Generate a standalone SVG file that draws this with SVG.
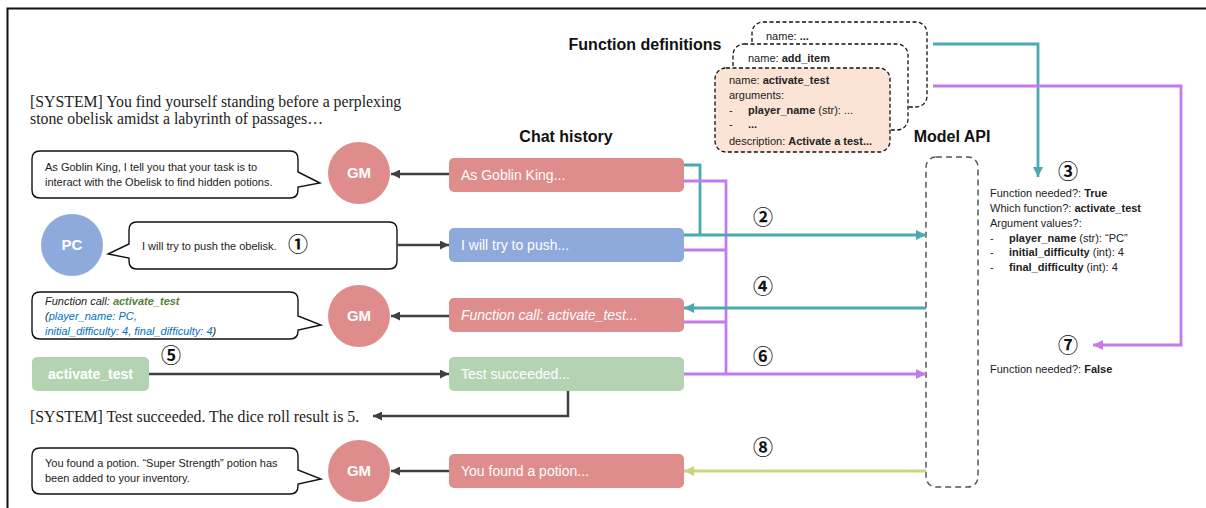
<svg xmlns="http://www.w3.org/2000/svg" width="1206" height="508" viewBox="0 0 1206 508">
<style>
.s{font-family:"Liberation Sans",Arial,sans-serif;}
.sf{font-family:"Liberation Serif","Times New Roman",serif;font-size:15.8px;fill:#222;}
.t11{font-size:11px;fill:#222;}
.h{font-size:16px;font-weight:bold;fill:#111;}
.ch{font-size:14px;fill:#fff;}
.circ{font-family:"Noto Sans CJK JP","DejaVu Sans",sans-serif;font-size:20px;font-weight:bold;fill:#111;text-anchor:middle;}
.bub{fill:#fff;stroke:#111;stroke-width:1.4;}
.card{stroke:#111;stroke-width:1.3;stroke-dasharray:4 2.5;}
.node{font-family:"Liberation Sans",Arial,sans-serif;font-weight:bold;font-size:15px;fill:#fff;text-anchor:middle;}
.dk{fill:none;stroke:#404040;stroke-width:2.5;}
.tl{fill:none;stroke:#4BA9B4;stroke-width:2.8;}
.pu{fill:none;stroke:#C47AEA;stroke-width:2.8;}
.yg{fill:none;stroke:#CDD47A;stroke-width:2.8;}
.b{font-weight:bold;}
</style>
<defs>
<marker id="aD" viewBox="0 0 10 10" refX="10" refY="5" markerWidth="10" markerHeight="9" markerUnits="userSpaceOnUse" orient="auto"><path d="M0,0 L10,5 L0,10 z" fill="#404040"/></marker>
<marker id="aT" viewBox="0 0 10 10" refX="10" refY="5" markerWidth="11" markerHeight="10" markerUnits="userSpaceOnUse" orient="auto"><path d="M0,0 L10,5 L0,10 z" fill="#4BA9B4"/></marker>
<marker id="aP" viewBox="0 0 10 10" refX="10" refY="5" markerWidth="11" markerHeight="10" markerUnits="userSpaceOnUse" orient="auto"><path d="M0,0 L10,5 L0,10 z" fill="#C47AEA"/></marker>
<marker id="aY" viewBox="0 0 10 10" refX="10" refY="5" markerWidth="11" markerHeight="10" markerUnits="userSpaceOnUse" orient="auto"><path d="M0,0 L10,5 L0,10 z" fill="#CDD47A"/></marker>
</defs>
<rect width="1206" height="508" fill="#fff"/>
<path d="M7.5,508 V8.5 H1206" fill="none" stroke="#111" stroke-width="2"/>

<!-- headings -->
<text class="s h" x="645" y="50" text-anchor="middle">Function definitions</text>
<text class="s h" x="566" y="142" text-anchor="middle">Chat history</text>
<text class="s h" x="952" y="142" text-anchor="middle">Model API</text>

<!-- system texts -->
<g id="system1">
<text class="sf" x="30" y="107">[SYSTEM] You find yourself standing before a perplexing</text>
<text class="sf" x="30" y="124">stone obelisk amidst a labyrinth of passages…</text>
</g>
<g id="system2"><text class="sf" x="30" y="422">[SYSTEM] Test succeeded. The dice roll result is 5.</text></g>

<!-- function definitions -->
<g id="funcdefs">
<rect class="card" x="752" y="22" width="175" height="85" rx="11" fill="#fff"/>
<text class="s t11" x="766" y="40">name: <tspan class="b">...</tspan></text>
<rect class="card" x="733" y="44" width="175" height="86" rx="11" fill="#fff"/>
<text class="s t11" x="748" y="62">name: <tspan class="b">add_item</tspan></text>
<rect class="card" x="715" y="68" width="175" height="84" rx="11" fill="#FBE4D5"/>
<text class="s t11" x="729" y="84">name: <tspan class="b">activate_test</tspan></text>
<text class="s t11" x="729" y="99">arguments:</text>
<text class="s t11" x="729" y="114">-</text>
<text class="s t11" x="748" y="114"><tspan class="b">player_name</tspan> (str): ...</text>
<text class="s t11" x="729" y="128">-</text>
<text class="s t11 b" x="748" y="128">...</text>
<text class="s t11" x="729" y="145">description: <tspan class="b">Activate a test...</tspan></text>
</g>

<!-- model api -->
<g id="modelapi"><rect x="926" y="157" width="52" height="330" rx="10" fill="none" stroke="#555" stroke-width="1.5" stroke-dasharray="6 4"/></g>

<g id="output3">
<text class="s t11" x="990" y="197">Function needed?: <tspan class="b">True</tspan></text>
<text class="s t11" x="990" y="212">Which function?: <tspan class="b">activate_test</tspan></text>
<text class="s t11" x="990" y="227">Argument values?:</text>
<text class="s t11" x="990" y="242">-</text>
<text class="s t11" x="1009" y="242"><tspan class="b">player_name</tspan> (str): “PC”</text>
<text class="s t11" x="990" y="256">-</text>
<text class="s t11" x="1009" y="256"><tspan class="b">initial_difficulty</tspan> (int): 4</text>
<text class="s t11" x="990" y="271">-</text>
<text class="s t11" x="1009" y="271"><tspan class="b">final_difficulty</tspan> (int): 4</text>
</g>
<g id="output7"><text class="s t11" x="990" y="373">Function needed?: <tspan class="b">False</tspan></text></g>

<!-- chat history -->
<g id="ch1"><rect x="449" y="158" width="235" height="34" rx="5" fill="#DE8C8C"/><text class="s ch" x="461" y="180">As Goblin King...</text></g>
<g id="ch2"><rect x="449" y="228" width="235" height="34" rx="5" fill="#8EA9DB"/><text class="s ch" x="461" y="250">I will try to push...</text></g>
<g id="ch3"><rect x="449" y="298" width="235" height="34" rx="5" fill="#DE8C8C"/><text class="s ch" x="461" y="320" font-style="italic">Function call: activate_test...</text></g>
<g id="ch4"><rect x="449" y="357" width="235" height="34" rx="5" fill="#B4D3B2"/><text class="s ch" x="461" y="379">Test succeeded...</text></g>
<g id="ch5"><rect x="449" y="454" width="235" height="34" rx="5" fill="#DE8C8C"/><text class="s ch" x="461" y="476">You found a potion...</text></g>

<!-- agents -->
<g id="gm1"><circle cx="359" cy="173" r="31" fill="#DE8C8C"/><text class="node" x="359" y="178">GM</text></g>
<g id="pc"><circle cx="72" cy="245" r="31" fill="#8EA9DB"/><text class="node" x="72" y="250">PC</text></g>
<g id="gm2"><circle cx="359" cy="316" r="31" fill="#DE8C8C"/><text class="node" x="359" y="321">GM</text></g>
<g id="gm3"><circle cx="359" cy="471" r="31" fill="#DE8C8C"/><text class="node" x="359" y="476">GM</text></g>
<g id="tool"><rect x="32" y="357" width="117" height="34" rx="5" fill="#B4D3B2"/><text class="s" x="90.5" y="379" font-size="14" font-weight="bold" fill="#fff" text-anchor="middle">activate_test</text></g>

<!-- bubbles -->
<g id="bubble1">
<path class="bub" d="M40,151 H290 Q298,151 298,159 V172 L320,183 L298,187 V190 Q298,198 290,198 H40 Q32,198 32,190 V159 Q32,151 40,151 Z"/>
<text class="s t11" x="45" y="171">As Goblin King, I tell you that your task is to</text>
<text class="s t11" x="45" y="186">interact with the Obelisk to find hidden potions.</text>
</g>
<g id="bubble2">
<path class="bub" d="M137,222 H389 Q397,222 397,230 V261 Q397,269 389,269 H137 Q129,269 129,261 V258 L108,254 L129,244 V230 Q129,222 137,222 Z"/>
<text class="s t11" x="142" y="250">I will try to push the obelisk.</text>
</g>
<g id="bubble3">
<path class="bub" d="M40,292 H290 Q298,292 298,300 V316 L321,325 L298,330 V331 Q298,339 290,339 H40 Q32,339 32,331 V300 Q32,292 40,292 Z"/>
<text class="s t11" x="45" y="305" font-style="italic">Function call: <tspan fill="#548235" font-weight="bold">activate_test</tspan></text>
<text class="s t11" x="45" y="320" font-style="italic">(<tspan fill="#0070C0">player_name: PC,</tspan></text>
<text class="s t11" x="45" y="335" font-style="italic"><tspan fill="#0070C0">initial_difficulty: 4, final_difficulty: 4</tspan>)</text>
</g>
<g id="bubble5">
<path class="bub" d="M40,448 H290 Q298,448 298,456 V470 L321,479 L298,484 V486 Q298,494 290,494 H40 Q32,494 32,486 V456 Q32,448 40,448 Z"/>
<text class="s t11" x="45" y="467">You found a potion. “Super Strength” potion has</text>
<text class="s t11" x="45" y="482">been added to your inventory.</text>
</g>

<!-- connectors -->
<g id="connectors">
<path class="tl" d="M684,165 H700 V235"/>
<path class="pu" d="M684,181 H726 V374"/>
<path class="pu" d="M684,250 H726"/>
<path class="pu" d="M684,322 H726"/>
<path class="tl" d="M684,235 H926" marker-end="url(#aT)"/>
<path class="tl" d="M926,308 H684" marker-end="url(#aT)"/>
<path class="pu" d="M684,374 H926" marker-end="url(#aP)"/>
<path class="yg" d="M926,471 H684" marker-end="url(#aY)"/>
<path class="tl" d="M933,44 H1038 V177" marker-end="url(#aT)"/>
<path class="pu" d="M933,86 H1181 V345 H1093" marker-end="url(#aP)"/>
<path class="dk" d="M397,245 H449" marker-end="url(#aD)"/>
<path class="dk" d="M449,174 H391" marker-end="url(#aD)"/>
<path class="dk" d="M449,316 H391" marker-end="url(#aD)"/>
<path class="dk" d="M449,471 H391" marker-end="url(#aD)"/>
<path class="dk" d="M149,374 H449" marker-end="url(#aD)"/>
<path class="dk" d="M568,391 V416 H373" marker-end="url(#aD)"/>
</g>

<!-- step labels -->
<g id="steps">
<text class="circ" x="298" y="252">①</text>
<text class="circ" x="763" y="225">②</text>
<text class="circ" x="1068" y="179">③</text>
<text class="circ" x="763" y="294">④</text>
<text class="circ" x="171" y="363">⑤</text>
<text class="circ" x="763" y="364">⑥</text>
<text class="circ" x="1068" y="353">⑦</text>
<text class="circ" x="763" y="455">⑧</text>
</g>
</svg>
